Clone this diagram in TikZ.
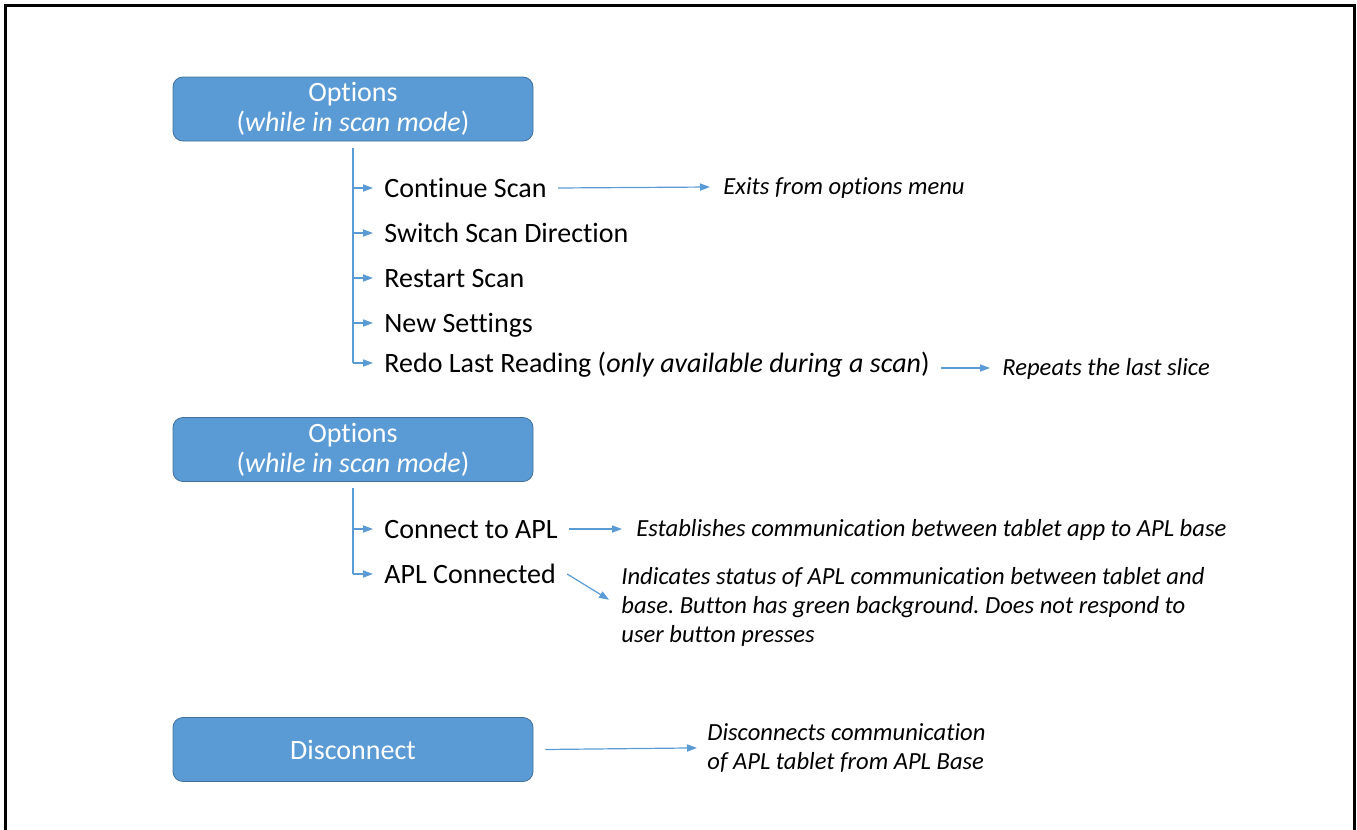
\documentclass[tikz,border=0pt]{standalone}
\usepackage{fontspec}
\setmainfont{Carlito}[Ligatures=NoCommon]
\usepackage{tikz}
\usetikzlibrary{
    positioning,
    arrows.meta,
    calc
}
\definecolor{boxBlue}{RGB}{91, 155, 213}
\definecolor{boxEdge}{RGB}{65, 113, 156}
\frenchspacing

\begin{document}
\begin{tikzpicture}[x=0.5pt, y=-0.5pt, >={Triangle[length=5pt, width=3.6pt]},
    menubox/.style={draw=boxEdge, fill=boxBlue, rounded corners=5pt,
        minimum width=180pt, minimum height=32pt, inner sep=0pt,
        text=white, align=center, font=\fontsize{14}{15}\selectfont},
    item/.style={anchor=west, inner xsep=5.5pt, inner ysep=0pt,
        text height=12.5pt, text depth=3pt, font=\fontsize{14}{16}\selectfont},
    note/.style={anchor=west, inner sep=0pt, align=left,
        font=\fontsize{12.3}{14.6}\selectfont\itshape},
    tree/.style={boxBlue, line width=0.6pt},
    link/.style={boxBlue, line width=0.6pt, ->}]
    % frame (open at the bottom)
    \useasboundingbox (0,0) rectangle (1357,830);
    \draw[line width=1.5pt] (5,830) -- (5,5) -- (1354,5) -- (1354,830);

    % first options menu
    \node[menubox] (opt1) at (353,109) {Options\\(\textit{while in scan mode})};
    \coordinate (r1) at (353,148);
    \node[item] (cont) at (373,188) {Continue Scan};
    \node[item] (swit) at (373,233) {Switch Scan Direction};
    \node[item] (rest) at (373,278) {Restart Scan};
    \node[item] (news) at (373,323) {New Settings};
    \node[item] (redo) at (373,363) {Redo Last Reading (\textit{only available during a scan})};
    \draw[tree] (r1) -- (r1 |- redo.west);
    \foreach \n in {cont, swit, rest, news, redo}
        \draw[link] (r1 |- \n.west) -- (\n.west);

    % notes of the first menu
    \node[note, text height=10pt, text depth=3pt] (exits) at (723,187) {Exits from options menu};
    \node[note, text height=10pt, text depth=3pt] (again) at (1002,368) {Repeats the last slice};
    \draw[link] (cont.east) -- ([xshift=-6.5pt]exits.west);
    \draw[link] (redo.east |- again.west) -- ([xshift=-6pt]again.west);

    % second options menu
    \node[menubox] (opt2) at (353,449.5) {Options\\(\textit{while in scan mode})};
    \coordinate (r2) at (353,488);
    \node[item] (conn) at (373,529) {Connect to APL};
    \node[item] (aplc) at (373,574) {APL Connected};
    \draw[tree] (r2) -- (r2 |- aplc.west);
    \foreach \n in {conn, aplc}
        \draw[link] (r2 |- \n.west) -- (\n.west);

    % notes of the second menu
    \node[note, text height=10pt, text depth=3pt] (estab) at (636,529)
        {Establishes communication between tablet app to APL base};
    \node[note, anchor=north west] (status) at (621,567)
        {Indicates status of APL communication between tablet and\\
         base. Button has green background. Does not respond to\\
         user button presses};
    \draw[link] (conn.east) -- ([xshift=-7pt]estab.west);
    \draw[link, shorten >=7pt] (aplc.east) -- (status.west);

    % disconnect button
    \node[menubox] (disc) at (353,749.5) {Disconnect};
    \node[note, anchor=north west] (dnote) at (707,723)
        {Disconnects communication\\of APL tablet from APL Base};
    \draw[link] ([xshift=6pt]disc.east) -- ([xshift=-5pt]dnote.west);
\end{tikzpicture}
\end{document}
